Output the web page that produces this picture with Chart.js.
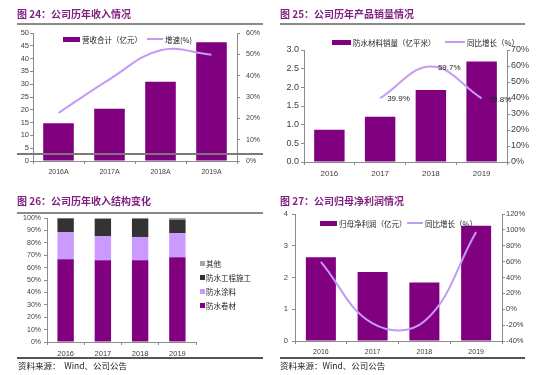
<!DOCTYPE html>
<html>
<head>
<meta charset="utf-8">
<script src="https://cdn.jsdelivr.net/npm/chart.js@4.4.0/dist/chart.umd.min.js"></script>
<style>
  body { margin: 0; background: #fff; }
  #wrap { position: relative; width: 550px; height: 375px; overflow: hidden; background: #fff;
    font-family: "Noto Sans CJK SC", "Liberation Sans", sans-serif; }
  canvas { position: absolute; }
  .title { position: absolute; font-size: 10px; font-weight: bold; color: #7f1f7f; white-space: nowrap; line-height: 12px; }
  .rule { position: absolute; height: 2px; background: #8a8a8a; }
  .src { position: absolute; font-size: 8.5px; color: #222; white-space: nowrap; line-height: 10px; }
  .lg { position: absolute; font-size: 7.5px; color: #222; white-space: nowrap; line-height: 9px; }
  .sw { position: absolute; }
</style>
</head>
<body>
<div id="wrap">
  <canvas id="chart-24" width="275" height="185" style="left:0;top:0"></canvas>
  <canvas id="chart-25" width="275" height="185" style="left:275px;top:0"></canvas>
  <canvas id="chart-26" width="275" height="190" style="left:0;top:185px"></canvas>
  <canvas id="chart-27" width="275" height="190" style="left:275px;top:185px"></canvas>

  <div class="title" style="left:17px;top:8px">图 24：公司历年收入情况</div>
  <div class="rule" style="left:17px;top:23px;width:246px"></div>
  <div class="title" style="left:280px;top:8px">图 25：公司历年产品销量情况</div>
  <div class="rule" style="left:280px;top:23px;width:245px"></div>
  <div class="title" style="left:17px;top:195px">图 26：公司历年收入结构变化</div>
  <div class="rule" style="left:17px;top:212px;width:246px"></div>
  <div class="title" style="left:280px;top:195px">图 27：公司归母净利润情况</div>

  <div class="rule" style="left:17px;top:153px;width:246px;background:#7a7a7a"></div>

  <div class="sw" style="left:63px;top:37px;width:17px;height:5px;background:#800080"></div>
  <div class="lg" style="left:82px;top:35px">营收合计（亿元）</div>
  <div class="sw" style="left:147px;top:38px;width:16px;height:2px;background:#c39bf2"></div>
  <div class="lg" style="left:165px;top:35px">增速(%)</div>

  <div class="sw" style="left:332px;top:40px;width:19px;height:5px;background:#800080"></div>
  <div class="lg" style="left:353px;top:38px">防水材料销量（亿平米）</div>
  <div class="sw" style="left:445px;top:41px;width:20px;height:2px;background:#c39bf2"></div>
  <div class="lg" style="left:467px;top:38px">同比增长（%）</div>

  <div class="sw" style="left:200px;top:261px;width:5px;height:5px;background:#a6a6a6"></div>
  <div class="lg" style="left:206px;top:259px">其他</div>
  <div class="sw" style="left:200px;top:275px;width:5px;height:5px;background:#333333"></div>
  <div class="lg" style="left:206px;top:273px">防水工程施工</div>
  <div class="sw" style="left:200px;top:289px;width:5px;height:5px;background:#cc99ff"></div>
  <div class="lg" style="left:206px;top:287px">防水涂料</div>
  <div class="sw" style="left:200px;top:303px;width:5px;height:5px;background:#800080"></div>
  <div class="lg" style="left:206px;top:301px">防水卷材</div>

  <div class="sw" style="left:320px;top:221px;width:17px;height:5px;background:#800080"></div>
  <div class="lg" style="left:339px;top:219px">归母净利润（亿元）</div>
  <div class="sw" style="left:407px;top:222px;width:16px;height:2px;background:#c39bf2"></div>
  <div class="lg" style="left:425px;top:219px">同比增长（%）</div>

  <div class="rule" style="left:17px;top:357px;width:246px;height:1.5px;background:#555"></div>
  <div class="src" style="left:18px;top:360px">资料来源：&nbsp; Wind、公司公告</div>
  <div class="rule" style="left:280px;top:357px;width:245px;height:1.5px;background:#555"></div>
  <div class="src" style="left:280px;top:360px">资料来源：Wind、公司公告</div>
</div>
<script>
// chart 24
const yearsA = ["2016A", "2017A", "2018A", "2019A"];
const revenue = [14.7, 20.4, 31.0, 46.4];
const revenueGrowth = [22.5, 38.3, 51.9, 49.8];
// chart 25
const years = ["2016", "2017", "2018", "2019"];
const salesVolume = [0.865, 1.21, 1.93, 2.69];
const salesGrowth = [null, 39.9, 59.7, 39.8];
// chart 26
const shareMembrane = [66.7, 65.9, 65.9, 68.3];
const shareCoating = [21.7, 19.6, 18.8, 19.6];
const shareConstruction = [11.3, 13.7, 14.8, 10.8];
const shareOther = [0.3, 0.8, 0.5, 1.3];
// chart 27
const netProfit = [2.64, 2.17, 1.84, 3.63];
const profitGrowth = [59.8, -17.8, -15.2, 97.3];

const purple = "#800080";
const lilac = "#c39bf2";
const axisGray = "#8c8c8c";
const tickColor = "#404040";

function tickFont(size) {
  return { family: "Liberation Sans", size: size };
}

function xAxis(size, height, stacked) {
  return {
    type: "category",
    offset: true,
    stacked: !!stacked,
    ticks: { color: tickColor, padding: 4, font: tickFont(size) },
    grid: { drawOnChartArea: false, drawTicks: true, tickLength: 3, color: axisGray, offset: true },
    border: { display: true, color: axisGray },
    afterFit: (s) => { s.height = height; },
  };
}

function yAxis(position, min, max, step, size, pad, width, cb, stacked) {
  const ticks = { stepSize: step, color: tickColor, padding: pad, font: tickFont(size) };
  if (cb) ticks.callback = cb;
  return {
    type: "linear",
    position: position,
    min: min,
    max: max,
    stacked: !!stacked,
    ticks: ticks,
    grid: { drawOnChartArea: false, drawTicks: true, tickLength: 3, color: axisGray },
    border: { display: true, color: axisGray },
    afterFit: (s) => { s.width = width; },
  };
}

const base = {
  responsive: false,
  animation: { duration: 0 },
  plugins: { legend: { display: false }, tooltip: { enabled: false } },
};

const pointLabels = {
  id: "pointLabels",
  afterDatasetsDraw(chart) {
    const meta = chart.getDatasetMeta(0);
    const ctx = chart.ctx;
    ctx.save();
    ctx.font = '8px "Liberation Sans"';
    ctx.fillStyle = "#222";
    ctx.textBaseline = "middle";
    meta.data.forEach((pt, i) => {
      const v = salesGrowth[i];
      if (v == null) return;
      ctx.fillText(v.toFixed(1) + "%", pt.x + 7, pt.y + 1);
    });
    ctx.restore();
  },
};

new Chart(document.getElementById("chart-24"), {
  type: "bar",
  data: {
    labels: yearsA,
    datasets: [
      { type: "line", label: "增速(%)", data: revenueGrowth, yAxisID: "y1", borderColor: lilac,
        borderWidth: 2, pointRadius: 0, tension: 0.4, order: 0 },
      { label: "营收合计（亿元）", data: revenue, backgroundColor: purple, yAxisID: "y",
        barPercentage: 0.6, categoryPercentage: 1, order: 1 },
    ],
  },
  options: {
    ...base,
    layout: { padding: { top: 33, left: 0, right: 0, bottom: 0 } },
    scales: {
      x: xAxis(7, 24),
      y: yAxis("left", 0, 50, 5, 7.5, 1, 33),
      y1: yAxis("right", 0, 60, 10, 7, 6, 38, (v) => v + "%"),
    },
  },
});

new Chart(document.getElementById("chart-25"), {
  type: "bar",
  data: {
    labels: years,
    datasets: [
      { type: "line", label: "同比增长（%）", data: salesGrowth, yAxisID: "y1", borderColor: lilac,
        borderWidth: 2, pointRadius: 0, tension: 0.4, order: 0 },
      { label: "防水材料销量（亿平米）", data: salesVolume, backgroundColor: purple, yAxisID: "y",
        barPercentage: 0.6, categoryPercentage: 1, order: 1 },
    ],
  },
  options: {
    ...base,
    layout: { padding: { top: 50, left: 0, right: 0, bottom: 0 } },
    scales: {
      x: xAxis(8, 23),
      y: yAxis("left", 0, 3, 0.5, 9, 2, 29, (v) => v.toFixed(1)),
      y1: yAxis("right", 0, 70, 10, 9, 1, 43, (v) => v + "%"),
    },
  },
  plugins: [pointLabels],
});

new Chart(document.getElementById("chart-26"), {
  type: "bar",
  data: {
    labels: years,
    datasets: [
      { label: "防水卷材", data: shareMembrane, backgroundColor: purple },
      { label: "防水涂料", data: shareCoating, backgroundColor: "#cc99ff" },
      { label: "防水工程施工", data: shareConstruction, backgroundColor: "#333333" },
      { label: "其他", data: shareOther, backgroundColor: "#a6a6a6" },
    ].map((d) => ({ ...d, barPercentage: 0.44, categoryPercentage: 1 })),
  },
  options: {
    ...base,
    layout: { padding: { top: 33, left: 0, right: 79, bottom: 15 } },
    scales: {
      x: xAxis(7.5, 18, true),
      y: yAxis("left", 0, 100, 10, 7, 3, 47, (v) => v + "%", true),
    },
  },
});

new Chart(document.getElementById("chart-27"), {
  type: "bar",
  data: {
    labels: years,
    datasets: [
      { type: "line", label: "同比增长（%）", data: profitGrowth, yAxisID: "y1", borderColor: lilac,
        borderWidth: 2, pointRadius: 0, tension: 0.4, order: 0 },
      { label: "归母净利润（亿元）", data: netProfit, backgroundColor: purple, yAxisID: "y",
        barPercentage: 0.58, categoryPercentage: 1, order: 1 },
    ],
  },
  options: {
    ...base,
    layout: { padding: { top: 29, left: 0, right: 0, bottom: 14 } },
    scales: {
      x: xAxis(7, 20),
      y: yAxis("left", 0, 4, 1, 7.5, 4, 20),
      y1: yAxis("right", -40, 120, 20, 7.5, 1, 48, (v) => v + "%"),
    },
  },
});
</script>
</body>
</html>
